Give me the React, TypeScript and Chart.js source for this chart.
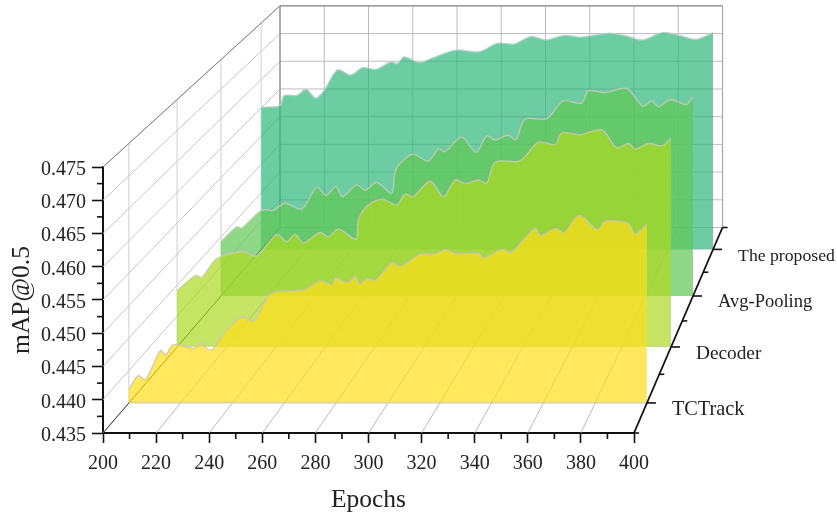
import React, { useEffect, useRef } from "react";
import { Chart, registerables } from "chart.js";

Chart.register(...registerables);

const categories = ["TCTrack", "Decoder", "Avg-Pooling", "The proposed"];
const fillColors = ["rgba(255,222,26,0.7)", "rgba(172,216,34,0.7)", "rgba(95,200,84,0.7)", "rgba(45,182,122,0.7)"];

const tcTrackEpochs = [200,203.6,206.4,212.2,214.2,216.8,220,225.1,228.3,229.6,232.2,238,243.8,248.3,254.1,257.3,267.6,274,278.5,279.8,284.3,287.5,289.1,292,295.3,301.7,304.9,312.6,317.8,322.3,326.1,335.1,337.1,344.2,347.4,356.8,359,364.8,368,373.8,380.9,384,393,395.4,400];
const tcTrackValues = [0.4371,0.4392,0.4386,0.4431,0.4424,0.4439,0.4439,0.4434,0.4442,0.4435,0.4432,0.4463,0.4482,0.4476,0.4516,0.4521,0.4524,0.4538,0.4532,0.4542,0.4535,0.4544,0.4533,0.4541,0.4539,0.4566,0.456,0.4579,0.4579,0.4586,0.458,0.458,0.4573,0.4587,0.4581,0.4619,0.4608,0.4619,0.4612,0.4639,0.4617,0.463,0.4626,0.461,0.4625];

const decoderEpochs = [200,207.7,210,216.1,226.9,232.3,240.4,244.4,247.8,251.2,257.9,261.3,265.3,272.4,273.4,276.8,282.9,289,292.3,295.6,302.5,307.9,312.6,316.6,322,325.4,328.8,338.9,346.3,353.1,355.8,363.2,372,378,382.8,385.5,390.9,396.3,400];
const decoderValues = [0.4441,0.4466,0.4462,0.4493,0.4504,0.4497,0.4532,0.452,0.4532,0.4518,0.4535,0.4528,0.4541,0.4524,0.4555,0.4577,0.4589,0.458,0.4597,0.4593,0.4618,0.4593,0.462,0.4614,0.462,0.4615,0.4649,0.4651,0.4681,0.4677,0.4696,0.4693,0.4701,0.4672,0.4679,0.467,0.4679,0.4675,0.4687];

const avgPoolingEpochs = [200,206.7,208.8,217.2,222.2,227.1,234.2,240.6,244.5,248.7,251.4,257.5,261,266,272.3,273.7,275.8,281.5,287.8,292.1,294.9,302,308.1,312.6,316.1,321.7,324.9,328.8,338,345,352.8,355.6,362.7,371.9,378.7,382.5,385.3,390.3,397.3,400];
const avgPoolingValues = [0.4442,0.4467,0.4465,0.4495,0.4495,0.4507,0.4497,0.4534,0.452,0.4535,0.4518,0.4538,0.4529,0.4542,0.4524,0.4558,0.4574,0.459,0.4578,0.4599,0.4594,0.4619,0.4593,0.4621,0.4614,0.4622,0.4614,0.4649,0.465,0.468,0.4676,0.4697,0.4694,0.4701,0.4671,0.468,0.467,0.4682,0.4674,0.4687];

const proposedEpochs = [200,208.3,210.2,215.9,219.8,224.2,227.9,233.8,239.7,244.9,250.8,257.4,260.2,263.3,270,275.7,286.2,296.5,304.5,312,319.4,326,334.2,341.6,354,361.5,368.7,377.7,385,392.5,400];
const proposedValues = [0.4601,0.4604,0.4622,0.4622,0.4633,0.4617,0.4631,0.4667,0.4658,0.4671,0.4668,0.4681,0.4678,0.469,0.468,0.4688,0.4702,0.4699,0.4714,0.4713,0.4726,0.472,0.4728,0.4725,0.4732,0.4727,0.472,0.4733,0.4728,0.4721,0.4733];

const seriesEpochs = [tcTrackEpochs, decoderEpochs, avgPoolingEpochs, proposedEpochs];
const seriesValues = [tcTrackValues, decoderValues, avgPoolingValues, proposedValues];

const xMin = 200, xMax = 400, xStep = 20;
const yMin = 0.435, yMax = 0.475, yStep = 0.005;

// perspective of the box, in data units
const K = 0.2, VX = 600, VY = 0.6204;
const project = (e: number, v: number, d: number) => {
  const s = 1 / (1 + K * d);
  return { x: VX + s * (e - VX), y: VY + s * (v - VY) };
};
const depthOf = (i: number) => (i + 0.5) / categories.length;

const serif = "'Liberation Serif', serif";

const range = (a: number, b: number, st: number) => {
  const out: number[] = [];
  const n = Math.round((b - a) / st);
  for (let i = 0; i <= n; i++) out.push(a + i * st);
  return out;
};

const boxPlugin = {
  id: "box",
  beforeDatasetsDraw(chart: any) {
    const ctx = chart.ctx;
    const P = (e: number, v: number, d: number): [number, number] => {
      const p = project(e, v, d);
      return [chart.scales.x.getPixelForValue(p.x), chart.scales.y.getPixelForValue(p.y)];
    };
    const seg = (a: [number, number], b: [number, number], color: string, w: number) => {
      ctx.beginPath();
      ctx.moveTo(a[0], a[1]);
      ctx.lineTo(b[0], b[1]);
      ctx.strokeStyle = color;
      ctx.lineWidth = w;
      ctx.stroke();
    };
    ctx.save();
    // back wall
    range(xMin, xMax, xStep).forEach((e) => seg(P(e, yMin, 1), P(e, yMax, 1), "#bcbcbc", 1));
    range(yMin, yMax, yStep).forEach((v) => seg(P(xMin, v, 1), P(xMax, v, 1), "#bcbcbc", 1));
    // left wall
    range(yMin, yMax, yStep).forEach((v) => seg(P(xMin, v, 0), P(xMin, v, 1), "#c4c4c4", 1));
    categories.forEach((_, i) => seg(P(xMin, yMin, depthOf(i)), P(xMin, yMax, depthOf(i)), "#cfcfcf", 1));
    // floor
    range(xMin, xMax, xStep).forEach((e) => seg(P(e, yMin, 0), P(e, yMin, 1), "#a8a8a8", 0.8));
    // box edges
    seg(P(xMin, yMax, 0), P(xMin, yMax, 1), "#808080", 1);
    seg(P(xMin, yMin, 0), P(xMin, yMin, 1), "#444", 1);
    seg(P(xMin, yMax, 1), P(xMax, yMax, 1), "#9c9c9c", 1.5);
    seg(P(xMin, yMin, 1), P(xMin, yMax, 1), "#8c8c8c", 1.2);
    seg(P(xMax, yMin, 1), P(xMax, yMax, 1), "#a8a8a8", 1.2);
    // minor ticks on the front axes
    const sx = chart.scales.x, sy = chart.scales.y;
    range(xMin + xStep / 2, xMax - xStep / 2, xStep).forEach((e) => {
      const x = sx.getPixelForValue(e);
      seg([x, sy.bottom], [x, sy.bottom + 6], "#111", 1.6);
    });
    range(yMin + yStep / 2, yMax - yStep / 2, yStep).forEach((v) => {
      const y = sy.getPixelForValue(v);
      seg([sx.left - 6, y], [sx.left, y], "#111", 1.6);
    });
    ctx.restore();
    chart.$area = chart.chartArea;
    chart.chartArea = { left: 0, top: 0, right: chart.width, bottom: chart.height, width: chart.width, height: chart.height };
  },
  afterDatasetsDraw(chart: any) {
    chart.chartArea = chart.$area;
    const ctx = chart.ctx;
    const P = (e: number, v: number, d: number): [number, number] => {
      const p = project(e, v, d);
      return [chart.scales.x.getPixelForValue(p.x), chart.scales.y.getPixelForValue(p.y)];
    };
    ctx.save();
    // thin lower edge of the front series
    const fa = P(xMin, yMin, depthOf(0)), fb = P(xMax, yMin, depthOf(0));
    ctx.strokeStyle = "rgba(200,190,130,0.8)";
    ctx.lineWidth = 1;
    ctx.beginPath();
    ctx.moveTo(fa[0], fa[1]);
    ctx.lineTo(fb[0], fb[1]);
    ctx.stroke();

    ctx.strokeStyle = "#111";
    ctx.lineWidth = 1.8;
    const a = P(xMax, yMin, 0), b = P(xMax, yMin, 1);
    ctx.beginPath();
    ctx.moveTo(a[0], a[1]);
    ctx.lineTo(b[0], b[1]);
    ctx.stroke();
    ctx.lineWidth = 1.6;
    [0, 0.25, 0.5, 0.75, 1].forEach((d) => {
      const p = P(xMax, yMin, d);
      ctx.beginPath();
      ctx.moveTo(p[0], p[1]);
      ctx.lineTo(p[0] + 5, p[1]);
      ctx.stroke();
    });
    ctx.fillStyle = "#222";
    ctx.textAlign = "left";
    ctx.textBaseline = "middle";
    categories.forEach((name, i) => {
      const d = depthOf(i);
      const p = P(xMax, yMin, d);
      ctx.beginPath();
      ctx.moveTo(p[0], p[1]);
      ctx.lineTo(p[0] + 9, p[1]);
      ctx.stroke();
      ctx.font = `${(20.8 / (1 + K * d)).toFixed(1)}px ${serif}`;
      ctx.fillText(name, p[0] + 25, p[1] + 6.5);
    });
    ctx.restore();
  },
};

export default function App() {
  const ref = useRef<HTMLCanvasElement>(null);
  useEffect(() => {
    document.body.style.margin = "0";
    document.body.style.overflow = "hidden";
    const datasets = categories.map((name, i) => {
      const d = depthOf(i);
      return {
        label: name,
        data: seriesEpochs[i].map((e, j) => project(e, seriesValues[i][j], d)),
        showLine: true,
        tension: 0.3,
        capBezierPoints: false,
        pointRadius: 0,
        borderColor: "rgba(198,198,198,0.9)",
        borderWidth: 1.4,
        backgroundColor: fillColors[i],
        fill: { value: project(xMin, yMin, d).y },
        clip: false,
        order: i,
      };
    });
    const chart = new Chart(ref.current as HTMLCanvasElement, {
      type: "scatter",
      data: { datasets } as any,
      plugins: [boxPlugin],
      options: {
        animation: false,
        responsive: false,
        layout: { padding: { top: 167, right: 203, left: 0, bottom: 0 } },
        elements: { line: { capBezierPoints: false } },
        plugins: { legend: { display: false }, tooltip: { enabled: false } },
        scales: {
          x: {
            type: "linear",
            afterDataLimits: (s: any) => { s.min = xMin; s.max = xMax; },
            afterFit: (s: any) => { s.height = 84; },
            border: { color: "#111", width: 2 },
            grid: { drawOnChartArea: false, tickLength: 10, tickColor: "#111", tickWidth: 1.6 },
            ticks: { stepSize: xStep, color: "#222", padding: 9, maxRotation: 0, autoSkip: false, font: { family: serif, size: 20 } },
            title: { display: true, text: "Epochs", color: "#222", font: { family: serif, size: 25.5 }, padding: { top: 8, bottom: 1 } },
          },
          y: {
            type: "linear",
            afterDataLimits: (s: any) => { s.min = yMin; s.max = yMax; },
            afterFit: (s: any) => { s.width = 103; },
            border: { color: "#111", width: 2 },
            grid: { drawOnChartArea: false, tickLength: 11, tickColor: "#111", tickWidth: 1.6 },
            ticks: { stepSize: yStep, color: "#222", padding: 6, labelOffset: 2.5, autoSkip: false, font: { family: serif, size: 20 }, callback: (v: any) => Number(v).toFixed(3) },
            title: { display: true, text: "mAP@0.5", color: "#222", font: { family: serif, size: 25.5 }, padding: { top: 7, bottom: 4 } },
          },
        },
      } as any,
    });
    return () => chart.destroy();
  }, []);
  return (
    <div style={{ width: 837, height: 517, position: "relative" }}>
      <canvas ref={ref} width={837} height={517} style={{ display: "block", width: 837, height: 517 }} />
    </div>
  );
}
